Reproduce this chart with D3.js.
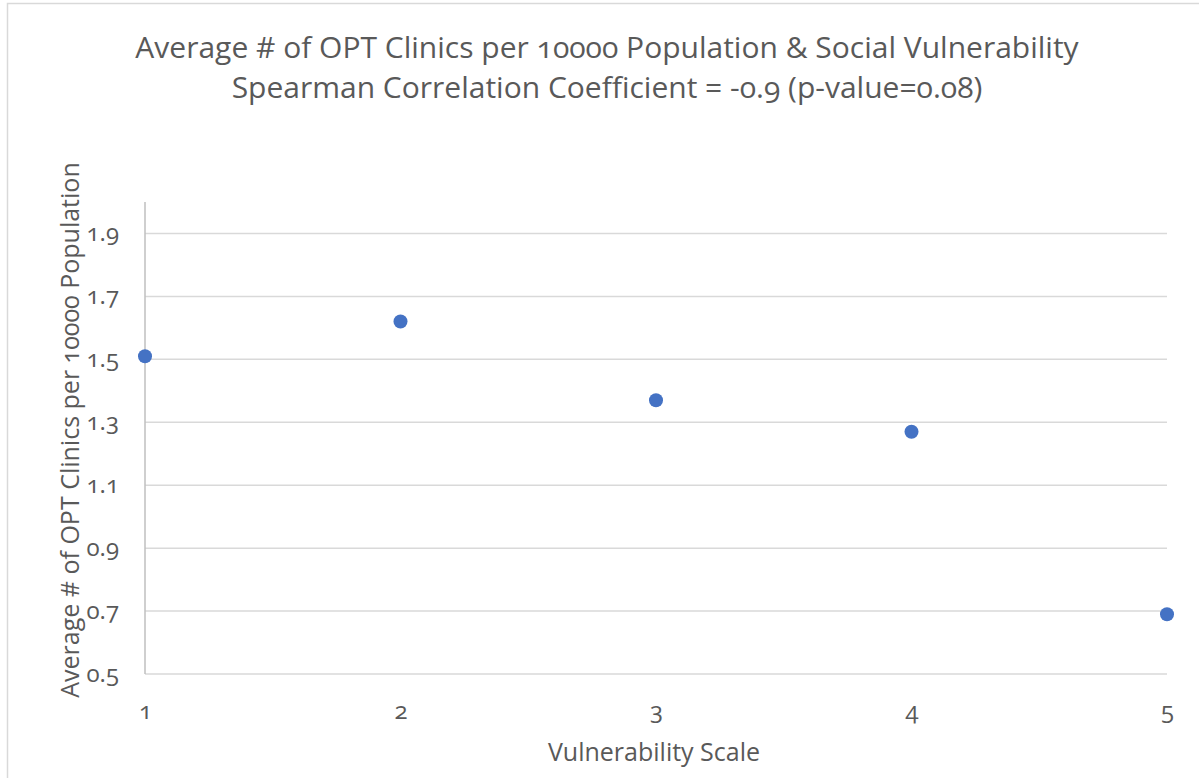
<!DOCTYPE html>
<html>
<head>
<meta charset="utf-8">
<script src="https://cdn.jsdelivr.net/npm/d3@7"></script>
<style>
  body { margin: 0; background: #fff; }
  svg text { font-family: "Open Sans", Lato, sans-serif; fill: #595959; font-variant-numeric: oldstyle-nums; }
</style>
</head>
<body>
<div id="chart"></div>
<script>
const scaleX = [1, 2, 3, 4, 5];
const avgClinics = [1.51, 1.62, 1.37, 1.27, 0.69];
const yTicks = [0.5, 0.7, 0.9, 1.1, 1.3, 1.5, 1.7, 1.9];
const titleLines = [
  "Average # of OPT Clinics per 10000 Population & Social Vulnerability",
  "Spearman Correlation Coefficient = -0.9 (p-value=0.08)"
];

const W = 1199, H = 778;
const margin = { top: 202, right: 32, bottom: 104, left: 145 };
const width = W - margin.left - margin.right;
const height = H - margin.top - margin.bottom;

const svg = d3.select("#chart").append("svg")
  .attr("width", W).attr("height", H);

// chart frame
svg.append("rect")
  .attr("x", 7.5).attr("y", 3.5)
  .attr("width", W).attr("height", H)
  .attr("fill", "none").attr("stroke", "#d9d9d9").attr("stroke-width", 1.5);

const g = svg.append("g").attr("transform", `translate(${margin.left},${margin.top})`);

const x = d3.scaleLinear().domain([1, 5]).range([0, width]);
const y = d3.scaleLinear().domain([0.5, 2.0]).range([height, 0]);

// gridlines
g.selectAll("line.grid").data(yTicks).join("line")
  .attr("class", "grid")
  .attr("x1", 0).attr("x2", width)
  .attr("y1", d => y(d)).attr("y2", d => y(d))
  .attr("stroke", "#d9d9d9").attr("stroke-width", 1.5);

// y axis line
g.append("line")
  .attr("x1", 0).attr("x2", 0).attr("y1", 0).attr("y2", height)
  .attr("stroke", "#bfbfbf").attr("stroke-width", 1.5);

const yAxis = g.append("g")
  .call(d3.axisLeft(y).tickValues(yTicks).tickFormat(d3.format(".1f")).tickSize(0).tickPadding(26));
yAxis.select(".domain").remove();
yAxis.selectAll("text").style("font-size", "24px").attr("dy", "0.3em");

const xAxis = g.append("g")
  .attr("transform", `translate(0,${height})`)
  .call(d3.axisBottom(x).tickValues(scaleX).tickFormat(d3.format("d")).tickSize(0).tickPadding(28));
xAxis.select(".domain").remove();
xAxis.selectAll("text").style("font-size", "24px");

g.selectAll("circle").data(scaleX).join("circle")
  .attr("cx", (d) => x(d))
  .attr("cy", (d, i) => y(avgClinics[i]))
  .attr("r", 7)
  .attr("fill", "#4472c4");

svg.selectAll("text.title").data(titleLines).join("text")
  .attr("class", "title")
  .attr("x", 607).attr("y", (d, i) => 58 + i * 40)
  .attr("text-anchor", "middle")
  .style("font-size", "30px")
  .text(d => d);

svg.append("text")
  .attr("transform", "translate(79,430) rotate(-90)")
  .attr("text-anchor", "middle")
  .style("font-size", "25px")
  .text("Average # of OPT Clinics per 10000 Population");

svg.append("text")
  .attr("x", 654).attr("y", 761)
  .attr("text-anchor", "middle")
  .style("font-size", "25px")
  .text("Vulnerability Scale");
</script>
</body>
</html>
